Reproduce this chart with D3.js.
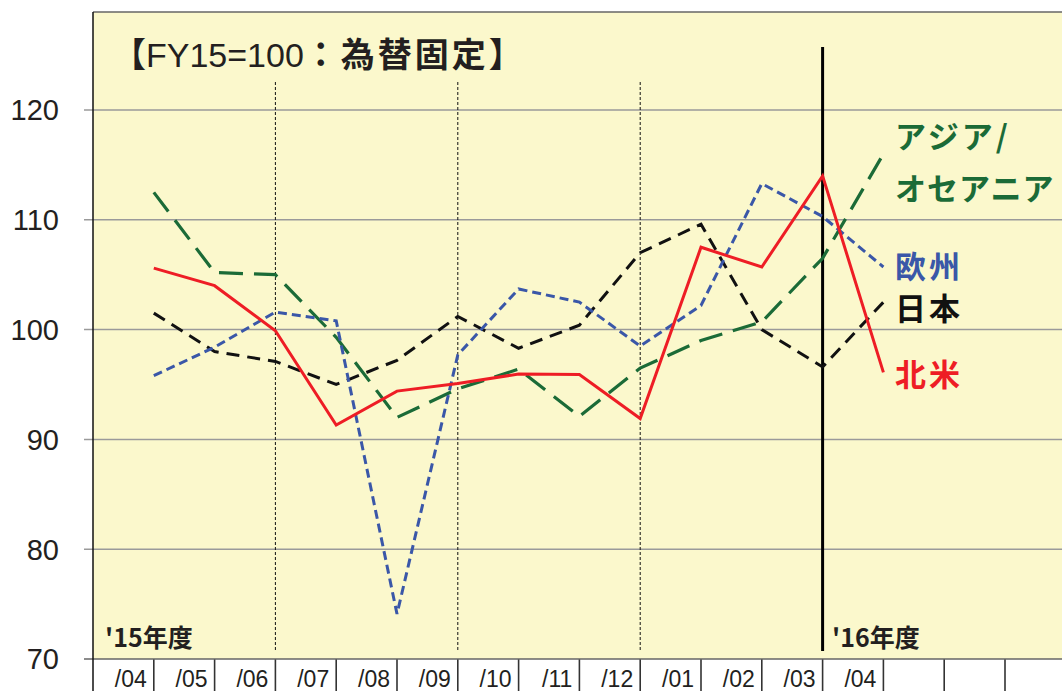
<!DOCTYPE html>
<html>
<head>
<meta charset="utf-8">
<script src="https://cdn.jsdelivr.net/npm/d3@7"></script>
<style>
  html, body { margin: 0; padding: 0; background: #ffffff; overflow: hidden; }
  svg { display: block; }
</style>
</head>
<body>
<svg id="chart" width="1062" height="691"></svg>
<script>
// ---- data ----
const months = ["/04","/05","/06","/07","/08","/09","/10","/11","/12","/01","/02","/03","/04","","",""];
const northAmerica = [105.6, 104.0, 99.9, 91.3, 94.4, 95.1, 95.95, 95.9, 91.9, 107.5, 105.7, 114.0, 96.1];
const europe       = [95.8, 98.4, 101.6, 100.8, 74.1, 97.7, 103.7, 102.5, 98.5, 102.2, 113.3, 110.3, 105.7];
const japan        = [101.5, 98.0, 97.1, 95.0, 97.2, 101.2, 98.3, 100.4, 107.0, 109.6, 100.0, 96.6, 102.5];
const asiaOceania  = [112.5, 105.2, 105.0, 99.3, 92.0, 94.6, 96.4, 92.1, 96.5, 99.0, 100.7, 106.5, 116.0];
const yTicks = [70, 80, 90, 100, 110, 120];
const quarterBounds = [3, 6, 9];
const yearBound = 12;
const seriesNames = ["アジア/オセアニア", "欧州", "日本", "北米"];

(function () {
// ---- layout ----
const svg = d3.select("#chart");
const pLeft = 93, pTop = 12, pBottom = 659, H = 691;
const x = d3.scaleBand().domain(d3.range(months.length)).range([pLeft, pLeft + months.length * 60.8]).padding(0);
const y = d3.scaleLinear().domain([70, 120]).range([pBottom, 110]);
const bw = x.bandwidth();
const xb = i => x(i) + bw; // right boundary of cell i

// background of plot
svg.append("rect").attr("x", pLeft).attr("y", pTop).attr("width", 1062 - pLeft + 10).attr("height", pBottom - pTop)
  .attr("fill", "#FBF8CC");

// gridlines + ticks
svg.append("g").selectAll("line").data(yTicks.filter(d => d > 70)).join("line")
  .attr("x1", 84).attr("x2", 1070).attr("y1", d => y(d)).attr("y2", d => y(d))
  .attr("stroke", "#9a9a9a").attr("stroke-width", 1.5);

// y labels
svg.append("g").selectAll("text").data(yTicks).join("text")
  .attr("x", 59).attr("y", d => y(d)).attr("dy", "0.36em")
  .attr("text-anchor", "end")
  .attr("font-family", "'Liberation Sans', Arial, sans-serif").attr("font-size", 29).attr("fill", "#231f20")
  .text(d => d);

// quarter dashed lines
svg.append("g").selectAll("line").data(quarterBounds).join("line")
  .attr("x1", d => xb(d - 1)).attr("x2", d => xb(d - 1)).attr("y1", 82).attr("y2", 652)
  .attr("stroke", "#111").attr("stroke-width", 1).attr("stroke-dasharray", "3,2");

// year line
svg.append("line").attr("x1", xb(yearBound - 1)).attr("x2", xb(yearBound - 1)).attr("y1", 47).attr("y2", 651)
  .attr("stroke", "#000").attr("stroke-width", 3);

// category cells
svg.append("rect").attr("x", pLeft).attr("y", pBottom).attr("width", 1062 - pLeft + 10).attr("height", H - pBottom).attr("fill", "#fff");
svg.append("g").selectAll("line").data(d3.range(months.length)).join("line")
  .attr("x1", d => xb(d)).attr("x2", d => xb(d)).attr("y1", pBottom).attr("y2", H)
  .attr("stroke", "#333").attr("stroke-width", 1.6);
svg.append("g").selectAll("text").data(months).join("text")
  .attr("x", (d, i) => xb(i) - 7).attr("y", 687)
  .attr("text-anchor", "end")
  .attr("font-family", "'Liberation Sans', Arial, sans-serif").attr("font-size", 23).attr("fill", "#231f20")
  .text(d => d);

// axes lines
svg.append("line").attr("x1", 84).attr("x2", 1070).attr("y1", pBottom).attr("y2", pBottom).attr("stroke", "#666").attr("stroke-width", 1.5);
svg.append("line").attr("x1", pLeft).attr("x2", 1070).attr("y1", pTop).attr("y2", pTop).attr("stroke", "#666").attr("stroke-width", 1.5);
svg.append("line").attr("x1", pLeft).attr("x2", pLeft).attr("y1", pTop).attr("y2", H).attr("stroke", "#111").attr("stroke-width", 1.5);

// series lines
const line = d3.line().x((d, i) => xb(i)).y(d => y(d));
const series = [
  { data: japan, color: "#111111", dash: "13,8", w: 3 },
  { data: asiaOceania, color: "#1B6B37", dash: "24,11", w: 3.2 },
  { data: europe, color: "#3A57A8", dash: "9,5", w: 3 },
  { data: northAmerica, color: "#EE1D25", dash: null, w: 3 }
];
svg.append("g").selectAll("path").data(series).join("path")
  .attr("d", d => line(d.data))
  .attr("fill", "none").attr("stroke", d => d.color).attr("stroke-width", d => d.w)
  .attr("stroke-dasharray", d => d.dash).attr("stroke-linejoin", "miter");

// title
const jp = "'Noto Sans CJK JP', sans-serif";
const title = svg.append("text").attr("x", 112).attr("y", 67).attr("font-size", 34).attr("fill", "#231f20");
title.append("tspan").attr("font-family", jp).attr("font-weight", "bold").text("【");
title.append("tspan").attr("font-family", "'Liberation Sans', Arial, sans-serif").text("FY15=100");
title.append("tspan").attr("font-family", jp).attr("font-weight", "bold").attr("letter-spacing", 3).text("：為替固定】");

// fiscal year labels
svg.append("text").attr("x", 105).attr("y", 647).attr("font-family", jp).attr("font-weight", "bold")
  .attr("font-size", 25).attr("fill", "#231f20").text("'15年度");
svg.append("text").attr("x", 832).attr("y", 647).attr("font-family", jp).attr("font-weight", "bold")
  .attr("font-size", 25).attr("fill", "#231f20").text("'16年度");

// series labels
const labels = [
  { t: "アジア/", y: 148, c: "#1B6B37", ls: 3 },
  { t: "オセアニア", y: 200, c: "#1B6B37", ls: 1 },
  { t: seriesNames[1], y: 278, c: "#3A57A8", ls: 3 },
  { t: seriesNames[2], y: 320, c: "#111111", ls: 3 },
  { t: seriesNames[3], y: 386, c: "#EE1D25", ls: 3 }
];
svg.append("g").selectAll("text").data(labels).join("text")
  .attr("x", 895).attr("y", d => d.y)
  .attr("font-family", jp).attr("font-weight", "bold").attr("font-size", 31)
  .attr("letter-spacing", d => d.ls).attr("fill", d => d.c)
  .text(d => d.t);
})();
</script>
</body>
</html>
